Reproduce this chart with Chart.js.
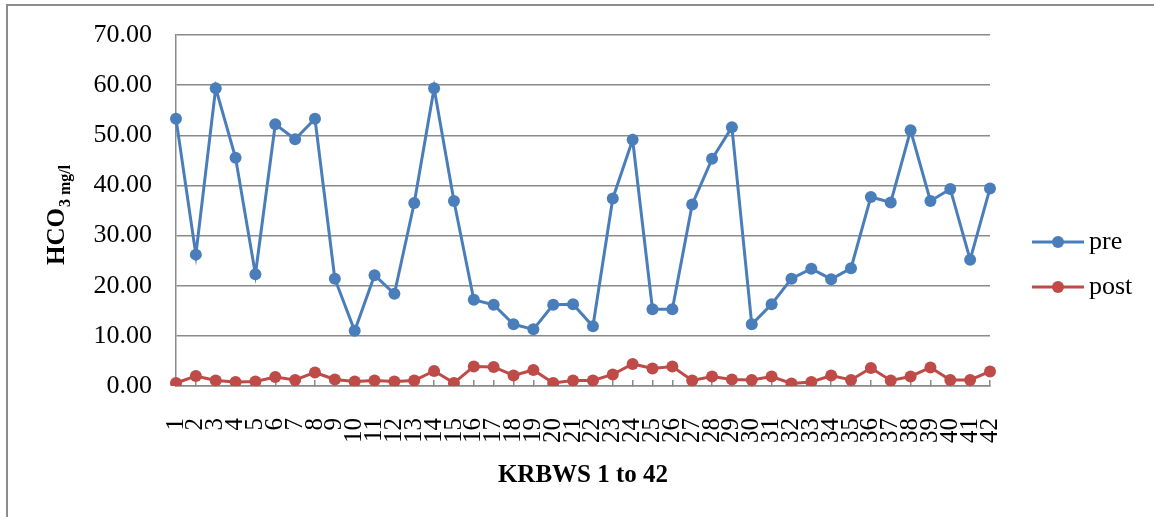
<!DOCTYPE html>
<html>
<head>
<meta charset="utf-8">
<script src="https://cdn.jsdelivr.net/npm/chart.js@4"></script>
<style>
  html, body { margin: 0; padding: 0; background: #fff; }
  #wrap { position: relative; width: 1154px; height: 517px; overflow: hidden; }
  #frame { position: absolute; left: 6px; top: 4px; width: 1200px; height: 600px;
           border-top: 2px solid #8c8c8c; border-left: 2px solid #8c8c8c; }
  canvas { position: absolute; left: 0; top: 0; }
</style>
</head>
<body>
<div id="wrap">
  <div id="frame"></div>
  <canvas id="chart" width="1154" height="517"></canvas>
</div>
<script>
const stations = Array.from({ length: 42 }, (_, i) => String(i + 1));

const preValues = [
  53.3, 26.2, 59.4, 45.5, 22.3, 52.2, 49.2, 53.3, 21.4, 11.0,
  22.1, 18.4, 36.5, 59.4, 36.9, 17.2, 16.2, 12.3, 11.3, 16.2,
  16.3, 11.9, 37.4, 49.1, 15.3, 15.3, 36.2, 45.3, 51.6, 12.3,
  16.3, 21.4, 23.4, 21.3, 23.5, 37.7, 36.6, 51.0, 36.9, 39.3,
  25.2, 39.4
];

const postValues = [
  0.6, 2.0, 1.1, 0.8, 0.9, 1.8, 1.2, 2.7, 1.3, 0.9,
  1.1, 0.9, 1.1, 3.0, 0.6, 3.9, 3.8, 2.1, 3.2, 0.6,
  1.1, 1.1, 2.3, 4.4, 3.5, 3.9, 1.1, 1.9, 1.3, 1.2,
  1.9, 0.5, 0.8, 2.1, 1.2, 3.6, 1.1, 1.9, 3.7, 1.2,
  1.2, 2.9
];

const seriesNames = ["pre", "post"];
const seriesColors = ["#4A7EBB", "#BE4B48"];
const yTitleMain = "HCO";
const yTitleSub = "3 mg/l";
const xTitle = "KRBWS 1 to 42";

const serif = '"Liberation Serif", "Times New Roman", serif';
const gridColor = "#8a8a8a";

// titles (with subscript) and the line+marker legend on the right
const decorations = {
  id: "decorations",
  afterDraw(chart) {
    const { ctx, chartArea } = chart;
    ctx.save();
    ctx.fillStyle = "#000";

    // y title, rotated, HCO with subscript
    ctx.save();
    ctx.translate(64, 265);
    ctx.rotate(-Math.PI / 2);
    ctx.textAlign = "left";
    ctx.textBaseline = "alphabetic";
    ctx.font = `bold 25px ${serif}`;
    ctx.fillText(yTitleMain, 0, 0);
    const w = ctx.measureText(yTitleMain).width;
    ctx.font = `bold 16px ${serif}`;
    ctx.fillText(yTitleSub, w + 1, 6);
    ctx.restore();

    // x title
    ctx.font = `bold 25px ${serif}`;
    ctx.textAlign = "center";
    ctx.textBaseline = "middle";
    ctx.fillText(xTitle, (chartArea.left + chartArea.right) / 2, 476);

    // legend
    const x0 = chartArea.right + 42;
    chart.data.datasets.forEach((ds, i) => {
      const y = 242 + i * 45;
      ctx.strokeStyle = ds.borderColor;
      ctx.lineWidth = 3;
      ctx.beginPath();
      ctx.moveTo(x0, y);
      ctx.lineTo(x0 + 52, y);
      ctx.stroke();
      ctx.fillStyle = ds.borderColor;
      ctx.beginPath();
      ctx.arc(x0 + 26, y, 6, 0, Math.PI * 2);
      ctx.fill();
      ctx.fillStyle = "#000";
      ctx.font = `26px ${serif}`;
      ctx.textAlign = "left";
      ctx.textBaseline = "middle";
      ctx.fillText(ds.label, x0 + 57, y);
    });
    ctx.restore();
  }
};

const datasets = [preValues, postValues].map((values, i) => ({
  label: seriesNames[i],
  data: values,
  borderColor: seriesColors[i],
  backgroundColor: seriesColors[i],
  pointBackgroundColor: seriesColors[i],
  pointBorderWidth: 0,
  pointRadius: 6,
  borderWidth: 3,
  tension: 0,
  fill: false
}));

new Chart(document.getElementById("chart"), {
  type: "line",
  data: { labels: stations, datasets },
  plugins: [decorations],
  options: {
    responsive: false,
    animation: false,
    devicePixelRatio: 1,
    layout: { padding: { top: 35, right: 164, left: 0, bottom: 0 } },
    plugins: { legend: { display: false }, tooltip: { enabled: false } },
    scales: {
      x: {
        type: "category",
        offset: false,
        grid: { drawOnChartArea: false, tickLength: -6, color: gridColor, lineWidth: 1.5 },
        border: { color: gridColor, width: 1.5 },
        ticks: {
          autoSkip: false,
          minRotation: 90,
          maxRotation: 90,
          padding: 38,
          color: "#000",
          font: { family: serif, size: 25 }
        },
        afterFit: (scale) => {
          scale.height = 131;
          scale.paddingLeft = 0;
          scale.paddingRight = 0;
        }
      },
      y: {
        min: 0,
        max: 70,
        grid: { color: gridColor, lineWidth: 1.5, drawTicks: false },
        border: { color: gridColor, width: 1.5 },
        ticks: {
          stepSize: 10,
          padding: 24,
          color: "#000",
          font: { family: serif, size: 26 },
          callback: (v) => Number(v).toFixed(2)
        },
        afterFit: (scale) => {
          scale.width = 176;
          scale.paddingTop = 0;
          scale.paddingBottom = 0;
        }
      }
    }
  }
});
</script>
</body>
</html>
